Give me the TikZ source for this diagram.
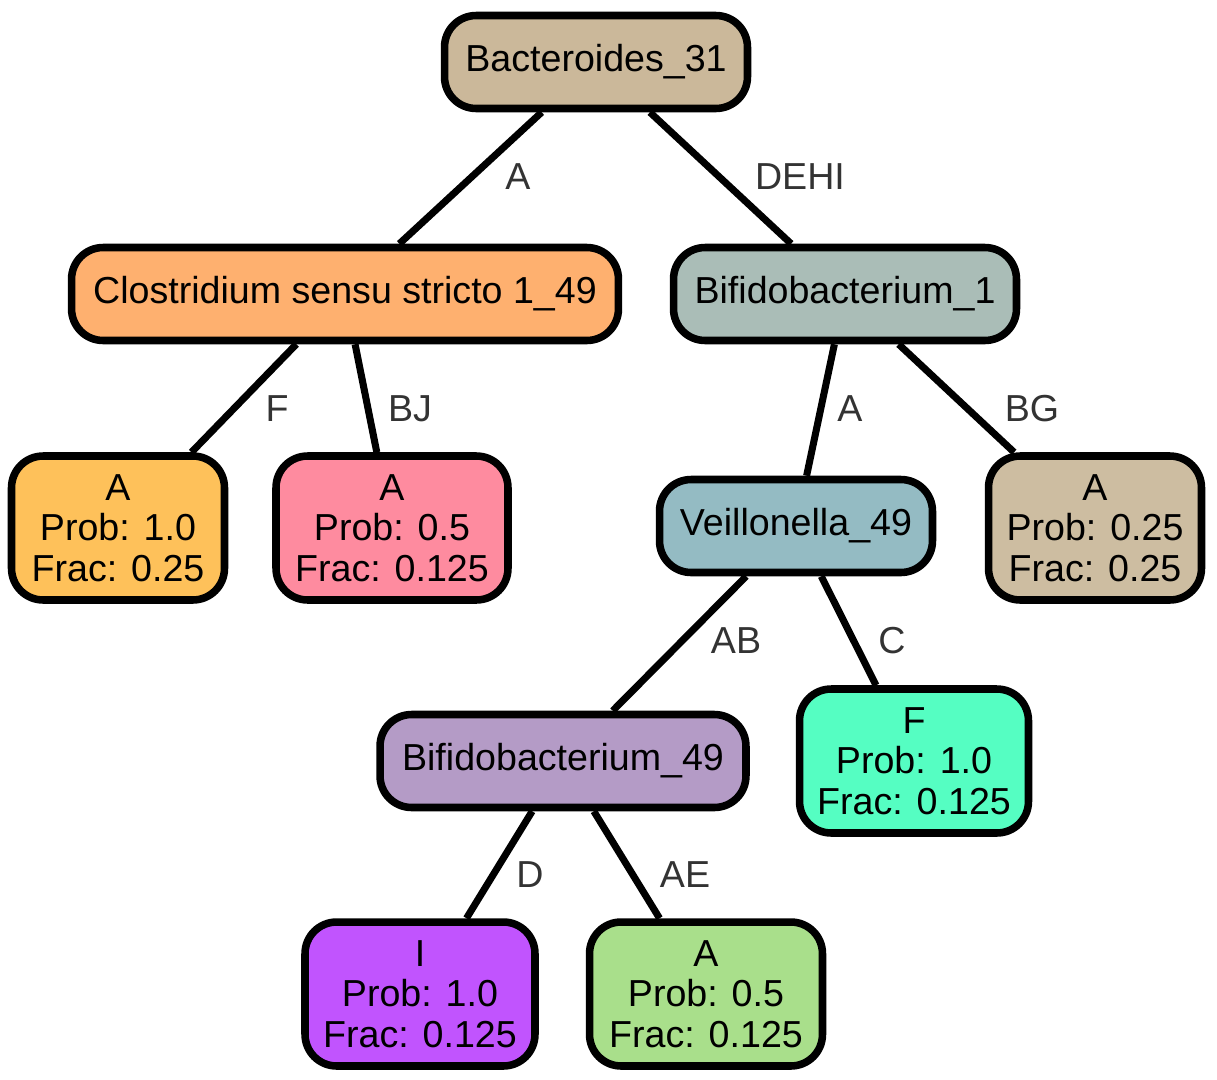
\documentclass[tikz,border=0pt]{standalone}
\usepackage{fontspec}
\setmainfont{Liberation Sans}
\definecolor{bacter}{HTML}{CBB89A}
\definecolor{clostr}{HTML}{FEB06F}
\definecolor{bifidoa}{HTML}{AABDB7}
\definecolor{leafa}{HTML}{FEC15A}
\definecolor{leafb}{HTML}{FE8B9F}
\definecolor{veillo}{HTML}{94BBC3}
\definecolor{leafc}{HTML}{CDBDA1}
\definecolor{bifidob}{HTML}{B49BC6}
\definecolor{leafd}{HTML}{55FEC2}
\definecolor{leafe}{HTML}{C154FE}
\definecolor{leaff}{HTML}{A9DF8B}
\definecolor{labgray}{HTML}{333333}
\begin{document}
\begin{tikzpicture}[x=0.02cm,y=-0.02cm,
  tnode/.style={draw=black,line width=4.3pt,rounded corners=18pt,minimum height=1.86cm,inner sep=0pt,font=\fontsize{21.4}{23}\selectfont},
  leaf/.style={tnode,minimum height=2.88cm,align=center},
  edge/.style={line width=4pt},
  elab/.style={text=labgray,font=\fontsize{21.4}{23}\selectfont}]

\useasboundingbox (0,0) rectangle (1217,1079);

% inner nodes
\node[tnode,fill=bacter,minimum width=6.06cm] (b31) at (596,62) {Bacteroides\_31};
\node[tnode,fill=clostr,minimum width=10.94cm] (c49) at (345,294) {Clostridium sensu stricto 1\_49};
\node[tnode,fill=bifidoa,minimum width=6.86cm] (bf1) at (845,294) {Bifidobacterium\_1};
\node[tnode,fill=veillo,minimum width=5.46cm] (v49) at (796,526) {Veillonella\_49};
\node[tnode,fill=bifidob,minimum width=7.32cm] (bf49) at (563,761) {Bifidobacterium\_49};

% leaves
\node[leaf,fill=leafa,minimum width=4.26cm] (lf1) at (118,528) {A\\Prob: 1.0\\Frac: 0.25};
\node[leaf,fill=leafb,minimum width=4.64cm] (lf2) at (392,528) {A\\Prob: 0.5\\Frac: 0.125};
\node[leaf,fill=leafc,minimum width=4.26cm] (lf3) at (1095,528) {A\\Prob: 0.25\\Frac: 0.25};
\node[leaf,fill=leafd,minimum width=4.58cm] (lf4) at (914,761) {F\\Prob: 1.0\\Frac: 0.125};
\node[leaf,fill=leafe,minimum width=4.6cm] (lf5) at (420,994) {I\\Prob: 1.0\\Frac: 0.125};
\node[leaf,fill=leaff,minimum width=4.66cm] (lf6) at (706,994) {A\\Prob: 0.5\\Frac: 0.125};

% edges
\draw[edge] (b31) -- (c49);
\draw[edge] (b31) -- (bf1);
\draw[edge] (c49) -- (lf1);
\draw[edge] (c49) -- (lf2);
\draw[edge] (bf1) -- (v49);
\draw[edge] (bf1) -- (lf3);
\draw[edge] (v49) -- (bf49);
\draw[edge] (v49) -- (lf4);
\draw[edge] (bf49) -- (lf5);
\draw[edge] (bf49) -- (lf6);

% edge labels
\node[elab] (la) at (518,177) {A};
\node[elab] (lb) at (800,177) {DEHI};
\node[elab] (lc) at (277,409) {F};
\node[elab] (ld) at (410,409) {BJ};
\node[elab] (le) at (850,409) {A};
\node[elab] (lg) at (1032,409) {BG};
\node[elab] (lh) at (736,641) {AB};
\node[elab] (li) at (892,641) {C};
\node[elab] (lj) at (530,875) {D};
\node[elab] (lk) at (685,875) {AE};

\end{tikzpicture}
\end{document}
